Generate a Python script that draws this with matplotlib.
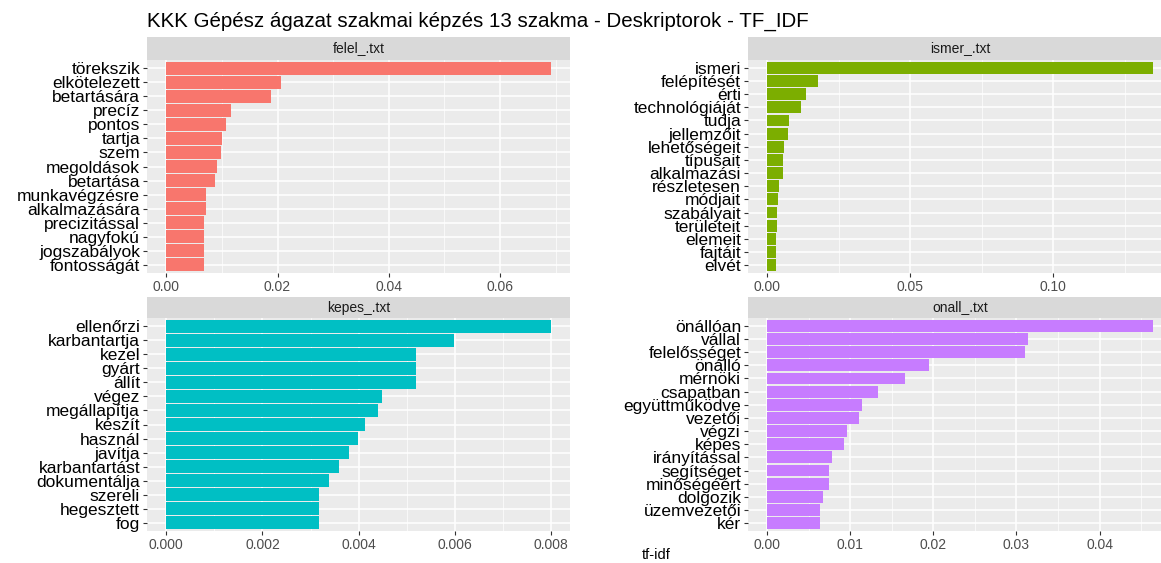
import numpy as np
import matplotlib.pyplot as plt
from matplotlib.ticker import MultipleLocator

plt.rcParams['font.family'] = ['Liberation Sans', 'DejaVu Sans']

# top words per descriptor file, highest tf-idf first
felel_words = ['törekszik', 'elkötelezett', 'betartására', 'precíz', 'pontos', 'tartja',
               'szem', 'megoldások', 'betartása', 'munkavégzésre', 'alkalmazására',
               'precizitással', 'nagyfokú', 'jogszabályok', 'fontosságát']
felel_tfidf = [0.0691, 0.0206, 0.0189, 0.0116, 0.0108, 0.0100, 0.0098, 0.0092, 0.0087,
               0.0072, 0.0072, 0.0068, 0.0068, 0.0068, 0.0068]

ismer_words = ['ismeri', 'felépítését', 'érti', 'technológiáját', 'tudja', 'jellemzőit',
               'lehetőségeit', 'típusait', 'alkalmazási', 'részletesen', 'módjait',
               'szabályait', 'területeit', 'elemeit', 'fajtáit', 'elvét']
ismer_tfidf = [0.1348, 0.0176, 0.0134, 0.0117, 0.0076, 0.0072, 0.0059, 0.0055, 0.0055,
               0.0042, 0.0039, 0.0034, 0.0034, 0.0030, 0.0030, 0.0030]

kepes_words = ['ellenőrzi', 'karbantartja', 'kezel', 'gyárt', 'állít', 'végez',
               'megállapítja', 'készít', 'használ', 'javítja', 'karbantartást',
               'dokumentálja', 'szereli', 'hegesztett', 'fog']
kepes_tfidf = [0.00799, 0.00598, 0.00519, 0.00519, 0.00519, 0.00448, 0.00439, 0.00414,
               0.00399, 0.00379, 0.00360, 0.00338, 0.00318, 0.00318, 0.00318]

onall_words = ['önállóan', 'vállal', 'felelősséget', 'önálló', 'mérnöki', 'csapatban',
               'együttműködve', 'vezetői', 'végzi', 'képes', 'irányítással', 'segítséget',
               'minőségéért', 'dolgozik', 'üzemvezetői', 'kér']
onall_tfidf = [0.0464, 0.0314, 0.0310, 0.0195, 0.0166, 0.0133, 0.0114, 0.0110, 0.0096,
               0.0092, 0.0078, 0.0074, 0.0074, 0.0067, 0.0063, 0.0063]

W, H = 1161, 563
fig = plt.figure(figsize=(W / 100, H / 100), dpi=100)

def px_axes(x0, y0, x1, y1):
    return fig.add_axes([x0 / W, 1 - y1 / H, (x1 - x0) / W, (y1 - y0) / H])

def facet(box, strip, label, words, vals, color, major, minor):
    x0, y0, x1, y1 = box
    ax = px_axes(x0, y0, x1, y1)
    n = len(words)
    ypos = np.arange(n)[::-1]
    ax.set_facecolor('#EBEBEB')
    ax.barh(ypos, vals, height=0.9, color=color, zorder=3)
    vmax = max(vals)
    ax.set_xlim(-0.05 * vmax, 1.05 * vmax)
    ax.set_ylim(-0.6, n - 0.4)
    ax.set_yticks(ypos)
    ax.set_yticklabels(words, fontsize=12.5, color='black')
    ax.xaxis.set_major_locator(MultipleLocator(major))
    ax.xaxis.set_minor_locator(MultipleLocator(minor))
    digits = len(str(major).split('.')[1])
    ax.xaxis.set_major_formatter(plt.FuncFormatter(lambda v, p: f'{v:.{digits}f}'))
    ax.grid(which='major', color='white', linewidth=1.1, zorder=0)
    ax.grid(which='minor', axis='x', color='white', linewidth=0.5, zorder=0)
    ax.set_axisbelow(True)
    for s in ax.spines.values():
        s.set_visible(False)
    ax.tick_params(axis='x', which='major', length=3, color='#333333',
                   labelsize=10, labelcolor='#4D4D4D', pad=2)
    ax.tick_params(axis='x', which='minor', length=0)
    ax.tick_params(axis='y', length=3, color='#333333', pad=2)
    # facet strip
    sx = px_axes(x0, strip, x1, y0)
    sx.set_facecolor('#D9D9D9')
    sx.set_xticks([])
    sx.set_yticks([])
    for s in sx.spines.values():
        s.set_visible(False)
    sx.text(0.5, 0.5, label, ha='center', va='center',
            fontsize=10, color='#1A1A1A', transform=sx.transAxes)
    return ax

facet((147, 60, 570, 273), 37, 'felel_.txt', felel_words, felel_tfidf, '#F8766D', 0.02, 0.01)
facet((748, 60, 1172, 273), 37, 'ismer_.txt', ismer_words, ismer_tfidf, '#7CAE00', 0.05, 0.025)
facet((147, 318, 570, 531), 297, 'kepes_.txt', kepes_words, kepes_tfidf, '#00BFC4', 0.002, 0.001)
facet((748, 318, 1172, 531), 297, 'onall_.txt', onall_words, onall_tfidf, '#C77CFF', 0.01, 0.005)

fig.text(147 / W, 1 - 21 / H, 'KKK Gépész ágazat szakmai képzés 13 szakma - Deskriptorok - TF_IDF',
         fontsize=14.8, ha='left', va='center', color='black')
fig.text(656 / W, 1 - 555 / H, 'tf-idf', fontsize=10.5, ha='center', va='center', color='black')

fig.savefig('out.png', dpi=100)
